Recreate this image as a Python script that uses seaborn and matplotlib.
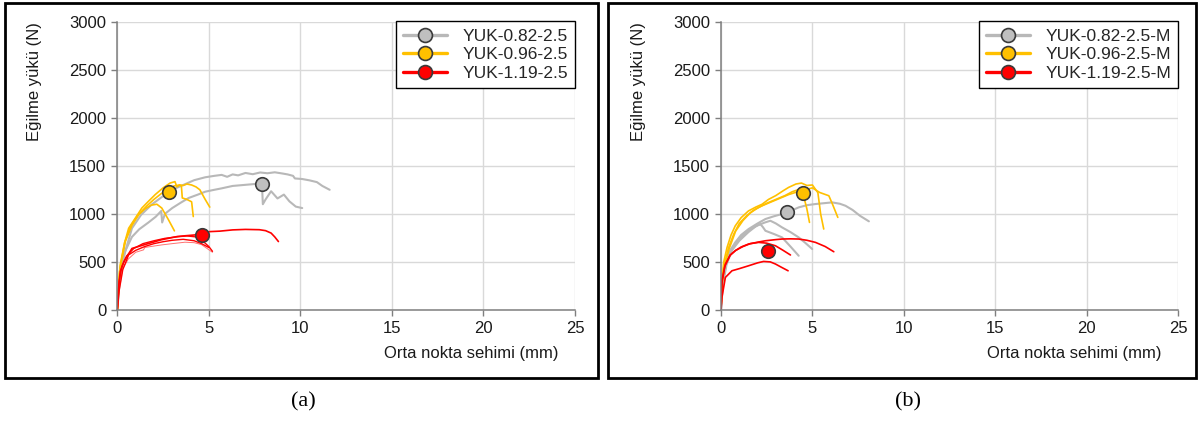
import matplotlib
matplotlib.use("Agg")
import matplotlib.pyplot as plt
from matplotlib.lines import Line2D
from matplotlib.patches import Rectangle
import seaborn as sns
import pandas as pd

# ---------------- data ----------------
X_TICKS = [0, 5, 10, 15, 20, 25]
Y_TICKS = [0, 500, 1000, 1500, 2000, 2500, 3000]
X_LABEL = "Orta nokta sehimi (mm)"
Y_LABEL = "Eğilme yükü (N)"
PANEL_LABELS = ["(a)", "(b)"]
LEGEND_A = ["YUK-0.82-2.5", "YUK-0.96-2.5", "YUK-1.19-2.5"]
LEGEND_B = ["YUK-0.82-2.5-M", "YUK-0.96-2.5-M", "YUK-1.19-2.5-M"]

# panel (a) - gray (0.82)
A_G1_X = [0, 0.1, 0.3, 0.8, 1.3, 1.9, 2.4, 3.0, 3.6, 4.2, 4.8, 5.3, 5.7, 6.0, 6.3, 6.6, 7.0, 7.4, 7.8, 8.2, 8.6, 9.0, 9.3, 9.6, 9.7, 10.1, 10.5, 10.9, 11.2, 11.6]
A_G1_Y = [0, 250, 520, 850, 990, 1100, 1170, 1250, 1300, 1350, 1380, 1395, 1405, 1385, 1410, 1400, 1425, 1412, 1430, 1422, 1432, 1420, 1410, 1395, 1368, 1362, 1348, 1330, 1290, 1250]
A_G2_X = [0, 0.1, 0.4, 0.8, 1.2, 1.7, 2.1, 2.4, 2.45, 2.6, 3.0, 3.5, 3.9, 4.4, 4.8, 5.3, 5.7, 6.3, 6.9, 7.5, 7.9, 7.95, 8.1, 8.4, 8.75, 9.1, 9.4, 9.75, 10.1]
A_G2_Y = [0, 230, 600, 760, 840, 910, 970, 1030, 910, 1000, 1060, 1120, 1165, 1200, 1230, 1250, 1265, 1290, 1300, 1310, 1312, 1100, 1150, 1235, 1160, 1200, 1130, 1075, 1060]
# panel (a) - yellow (0.96)
A_Y1_X = [0, 0.16, 0.4, 0.62, 1.0, 1.34, 1.7, 2.07, 2.5, 2.88, 3.15, 3.25, 3.4, 3.6, 3.8, 4.06, 4.3, 4.51, 4.8, 5.05]
A_Y1_Y = [0, 470, 700, 850, 960, 1060, 1130, 1200, 1270, 1320, 1335, 1280, 1300, 1295, 1310, 1300, 1280, 1250, 1150, 1070]
A_Y2_X = [0, 0.15, 0.45, 0.8, 1.2, 1.6, 2.0, 2.4, 2.8, 3.1, 3.4, 3.5, 3.55, 3.8, 4.06, 4.15]
A_Y2_Y = [0, 430, 720, 880, 1000, 1080, 1150, 1210, 1260, 1290, 1300, 1290, 1165, 1150, 1125, 972]
A_Y3_X = [0, 0.12, 0.4, 0.75, 1.1, 1.5, 1.85, 2.16, 2.43, 2.79, 3.12]
A_Y3_Y = [0, 400, 700, 880, 980, 1050, 1090, 1100, 1060, 940, 823]
# panel (a) - red (1.19)
A_R1_X = [0, 0.08, 0.16, 0.35, 0.8, 1.5, 2.4, 3.3, 4.2, 4.6, 5.04, 5.6, 6.3, 7.0, 7.76, 8.1, 8.4, 8.6, 8.8]
A_R1_Y = [0, 250, 400, 500, 640, 680, 730, 765, 780, 790, 815, 820, 833, 838, 835, 825, 800, 760, 712]
A_R2_X = [0, 0.1, 0.25, 0.5, 0.9, 1.4, 2.0, 2.6, 3.2, 3.8, 4.3, 4.7, 5.0, 5.2]
A_R2_Y = [0, 300, 450, 560, 640, 690, 720, 745, 760, 770, 760, 712, 660, 610]
A_R3_X = [0, 0.1, 0.3, 0.6, 1.0, 1.43, 1.5, 2.0, 2.43, 3.0, 3.7, 4.2, 4.6, 4.9, 5.2]
A_R3_Y = [0, 260, 430, 530, 600, 625, 650, 665, 677, 690, 705, 700, 680, 640, 600]
A_R4_X = [0, 0.1, 0.3, 0.62, 1.0, 1.5, 2.0, 2.5, 3.0, 3.6, 4.2, 4.6, 5.0]
A_R4_Y = [0, 200, 420, 573, 620, 660, 690, 710, 725, 735, 720, 690, 650]
A_MARK_X = [7.9, 2.83, 4.64]
A_MARK_Y = [1312, 1232, 785]

# panel (b) - gray
B_G1_X = [0, 0.05, 0.24, 0.5, 0.78, 1.1, 1.51, 2.0, 2.43, 2.9, 3.34, 3.8, 4.25, 4.7, 5.17, 5.6, 6.08, 6.5, 6.81, 7.2, 7.6, 8.09]
B_G1_Y = [0, 250, 513, 620, 703, 780, 842, 900, 946, 975, 998, 1030, 1067, 1090, 1102, 1110, 1119, 1105, 1084, 1040, 980, 922]
B_G2_X = [0, 0.1, 0.3, 0.6, 1.0, 1.5, 2.0, 2.4, 2.7, 3.0, 3.34, 3.8, 4.25, 4.6, 4.99]
B_G2_Y = [0, 280, 500, 640, 740, 830, 880, 910, 928, 900, 859, 810, 755, 700, 634]
B_G3_X = [0, 0.1, 0.3, 0.6, 1.0, 1.5, 1.9, 2.15, 2.3, 2.43, 2.9, 3.34, 3.8, 4.25]
B_G3_Y = [0, 260, 470, 620, 720, 810, 870, 894, 860, 824, 790, 755, 660, 564]
# panel (b) - yellow
B_Y1_X = [0, 0.05, 0.15, 0.33, 0.55, 0.78, 1.1, 1.5, 1.9, 2.25, 2.6, 3.0, 3.4, 3.7, 4.1, 4.4, 4.7, 5.0, 5.3, 5.45, 5.62]
B_Y1_Y = [0, 300, 500, 650, 780, 875, 960, 1030, 1070, 1100, 1150, 1190, 1240, 1275, 1310, 1320, 1295, 1300, 1220, 1000, 842]
B_Y2_X = [0, 0.05, 0.2, 0.4, 0.7, 1.0, 1.4, 1.8, 2.2, 2.7, 3.2, 3.7, 4.2, 4.6, 5.0, 5.4, 5.9, 6.1, 6.39]
B_Y2_Y = [0, 280, 480, 640, 790, 900, 980, 1040, 1080, 1120, 1160, 1200, 1230, 1250, 1270, 1222, 1188, 1100, 963]
B_Y3_X = [0, 0.05, 0.2, 0.45, 0.8, 1.2, 1.6, 2.0, 2.5, 3.0, 3.5, 3.9, 4.2, 4.5, 4.7, 4.84]
B_Y3_Y = [0, 260, 460, 640, 820, 930, 1010, 1060, 1110, 1150, 1190, 1230, 1250, 1200, 1050, 911]
# panel (b) - red
B_R1_X = [0, 0.05, 0.24, 0.5, 0.78, 1.1, 1.51, 2.0, 2.43, 3.0, 3.34, 3.8, 4.25, 4.7, 5.17, 5.7, 6.17]
B_R1_Y = [0, 305, 478, 570, 616, 655, 686, 705, 720, 732, 738, 740, 738, 725, 703, 660, 606]
B_R2_X = [0, 0.05, 0.2, 0.5, 0.8, 1.2, 1.6, 2.06, 2.5, 2.98, 3.4, 3.8]
B_R2_Y = [0, 280, 450, 570, 620, 660, 690, 703, 695, 668, 620, 572]
B_R3_X = [0, 0.05, 0.24, 0.6, 1.0, 1.51, 2.0, 2.33, 2.7, 2.98, 3.3, 3.67]
B_R3_Y = [0, 131, 339, 408, 430, 460, 490, 505, 500, 478, 445, 408]
B_MARK_X = [3.6, 4.5, 2.55]
B_MARK_Y = [1022, 1215, 609]

# ---------------- styles ----------------
GRAY = "#B8B8B8"
GRAY_M = "#BFBFBF"
YELLOW = "#FFC000"
RED = "#FF0000"
RED_LIGHT = "#FF7070"
EDGE = "#3A3A3A"

sns.set_theme(style="whitegrid")
plt.rcParams["font.family"] = ["Liberation Sans", "DejaVu Sans"]

W, H = 1200, 421
fig = plt.figure(figsize=(W / 100, H / 100), dpi=100)
fig.patch.set_facecolor("white")

ax_a = fig.add_axes([117.3 / W, 1 - 310 / H, 457.7 / W, 288.5 / H])
ax_b = fig.add_axes([721.0 / W, 1 - 310 / H, 457.0 / W, 288.5 / H])

panels = [
    (ax_a,
     [(A_G1_X, A_G1_Y, GRAY, 1.5), (A_G2_X, A_G2_Y, GRAY, 1.5),
      (A_Y1_X, A_Y1_Y, YELLOW, 1.2), (A_Y2_X, A_Y2_Y, YELLOW, 1.2), (A_Y3_X, A_Y3_Y, YELLOW, 1.2),
      (A_R3_X, A_R3_Y, RED_LIGHT, 0.7), (A_R4_X, A_R4_Y, RED, 1.0),
      (A_R2_X, A_R2_Y, RED, 1.0), (A_R1_X, A_R1_Y, RED, 1.2)],
     A_MARK_X, A_MARK_Y, LEGEND_A),
    (ax_b,
     [(B_G1_X, B_G1_Y, GRAY, 1.5), (B_G2_X, B_G2_Y, GRAY, 1.5), (B_G3_X, B_G3_Y, GRAY, 1.5),
      (B_Y1_X, B_Y1_Y, YELLOW, 1.2), (B_Y2_X, B_Y2_Y, YELLOW, 1.2), (B_Y3_X, B_Y3_Y, YELLOW, 1.2),
      (B_R1_X, B_R1_Y, RED, 1.2), (B_R2_X, B_R2_Y, RED, 1.2), (B_R3_X, B_R3_Y, RED, 1.2)],
     B_MARK_X, B_MARK_Y, LEGEND_B),
]

mark_colors = [GRAY_M, YELLOW, RED]
line_colors = [GRAY, YELLOW, RED]

for ax, curves, mx, my, leg_labels in panels:
    for xs, ys, col, lw in curves:
        sns.lineplot(x=xs, y=ys, sort=False, estimator=None, color=col,
                     linewidth=lw, ax=ax, legend=False)
    mdf = pd.DataFrame({"x": mx, "y": my, "c": mark_colors})
    for _, r in mdf.iterrows():
        sns.scatterplot(x=[r["x"]], y=[r["y"]], color=r["c"], s=95,
                        edgecolor=EDGE, linewidth=1.2, ax=ax, zorder=6, legend=False)

    ax.set_xlim(0, 25)
    ax.set_ylim(0, 3000)
    ax.set_xticks(X_TICKS)
    ax.set_yticks(Y_TICKS)
    ax.set_facecolor("white")
    ax.grid(True, color="#D9D9D9", linewidth=1.0)
    for s in ["top", "right"]:
        ax.spines[s].set_visible(False)
    for s in ["left", "bottom"]:
        ax.spines[s].set_visible(True)
        ax.spines[s].set_color("#7F7F7F")
        ax.spines[s].set_linewidth(1.1)
    ax.tick_params(axis="both", which="major", direction="out", length=4,
                   width=1.0, color="#7F7F7F", labelsize=12, labelcolor="#1A1A1A", pad=4,
                   bottom=True, left=True)
    ax.set_xlabel(X_LABEL, fontsize=12, color="#1A1A1A")
    ax.xaxis.set_label_coords(0.773, -0.125)
    ax.xaxis.label.set_va("top")
    ax.set_ylabel(Y_LABEL, fontsize=12, color="#1A1A1A")
    ax.yaxis.set_label_coords(-0.165, 0.792)

    handles = [Line2D([], [], color=lc, lw=2.4, marker="o", markersize=10,
                      markerfacecolor=mc, markeredgecolor=EDGE, markeredgewidth=1.2)
               for lc, mc in zip(line_colors, mark_colors)]
    leg = ax.legend(handles, leg_labels, loc="upper right", bbox_to_anchor=(1.0, 1.0),
                    borderaxespad=0.0, fontsize=12.5, frameon=True, fancybox=False,
                    framealpha=1.0, edgecolor="black", handlelength=2.5,
                    handletextpad=0.9, labelspacing=0.2, borderpad=0.4)
    leg.get_frame().set_linewidth(1.0)

# panel frames
fig.add_artist(Rectangle((5 / W, 1 - 377.5 / H), 593 / W, 374.5 / H,
                         transform=fig.transFigure, fill=False, ec="black", lw=2.0))
fig.add_artist(Rectangle((608 / W, 1 - 377.5 / H), 588 / W, 374.5 / H,
                         transform=fig.transFigure, fill=False, ec="black", lw=2.0))

# panel labels
for lab, xp in zip(PANEL_LABELS, [303, 908]):
    fig.text(xp / W, 1 - 402 / H, lab, ha="center", va="center", fontsize=16,
             family=["Liberation Serif", "DejaVu Serif"], color="black")

fig.savefig("out.png", dpi=100, facecolor="white")
